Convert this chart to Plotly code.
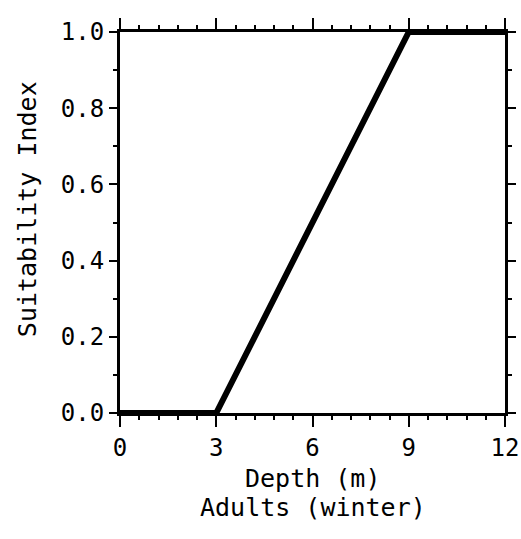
import plotly.graph_objects as go

depth = [0, 3, 9, 12]
suitability = [0.0, 0.0, 1.0, 1.0]
x_ticks = [0, 3, 6, 9, 12]
y_ticks = [0.0, 0.2, 0.4, 0.6, 0.8, 1.0]
x_title_lines = ["Depth (m)", "Adults (winter)"]
y_title = "Suitability Index"

FONT = "DejaVu Sans Mono"

fig = go.Figure()
fig.add_trace(go.Scatter(x=depth, y=suitability, mode="lines",
                         line=dict(color="black", width=6),
                         cliponaxis=False, hoverinfo="skip"))

axis_common = dict(showgrid=False, zeroline=False, showline=True, linecolor="black",
                   linewidth=3, mirror="ticks", ticks="outside", tickcolor="black",
                   tickwidth=2, automargin=False,
                   tickfont=dict(family=FONT, size=24, color="black"))

fig.update_xaxes(range=[0, 12], tickvals=x_ticks, ticklen=11,
                 minor=dict(dtick=0.6, tick0=0, ticks="outside", ticklen=4,
                            tickwidth=2, tickcolor="black"),
                 **axis_common)
fig.update_yaxes(range=[0, 1], tickvals=y_ticks, tickformat=".1f", ticklen=8,
                 minor=dict(dtick=0.1, tick0=0, ticks="outside", ticklen=4,
                            tickwidth=2, tickcolor="black"),
                 **axis_common)

fig.add_annotation(text=x_title_lines[0], xref="paper", yref="paper", x=0.5, y=0,
                   yshift=-65, showarrow=False, xanchor="center", yanchor="middle",
                   font=dict(family=FONT, size=25, color="black"))
fig.add_annotation(text=x_title_lines[1], xref="paper", yref="paper", x=0.5, y=0,
                   yshift=-94, showarrow=False, xanchor="center", yanchor="middle",
                   font=dict(family=FONT, size=25, color="black"))
fig.add_annotation(text=y_title, xref="paper", yref="paper", x=0, y=0.535,
                   xshift=-93, showarrow=False, textangle=-90, xanchor="center",
                   yanchor="middle", font=dict(family=FONT, size=25, color="black"))

fig.update_layout(width=521, height=539, margin=dict(l=120, r=16, t=32, b=126),
                  paper_bgcolor="white", plot_bgcolor="white", showlegend=False)

fig.write_html("out.html")
